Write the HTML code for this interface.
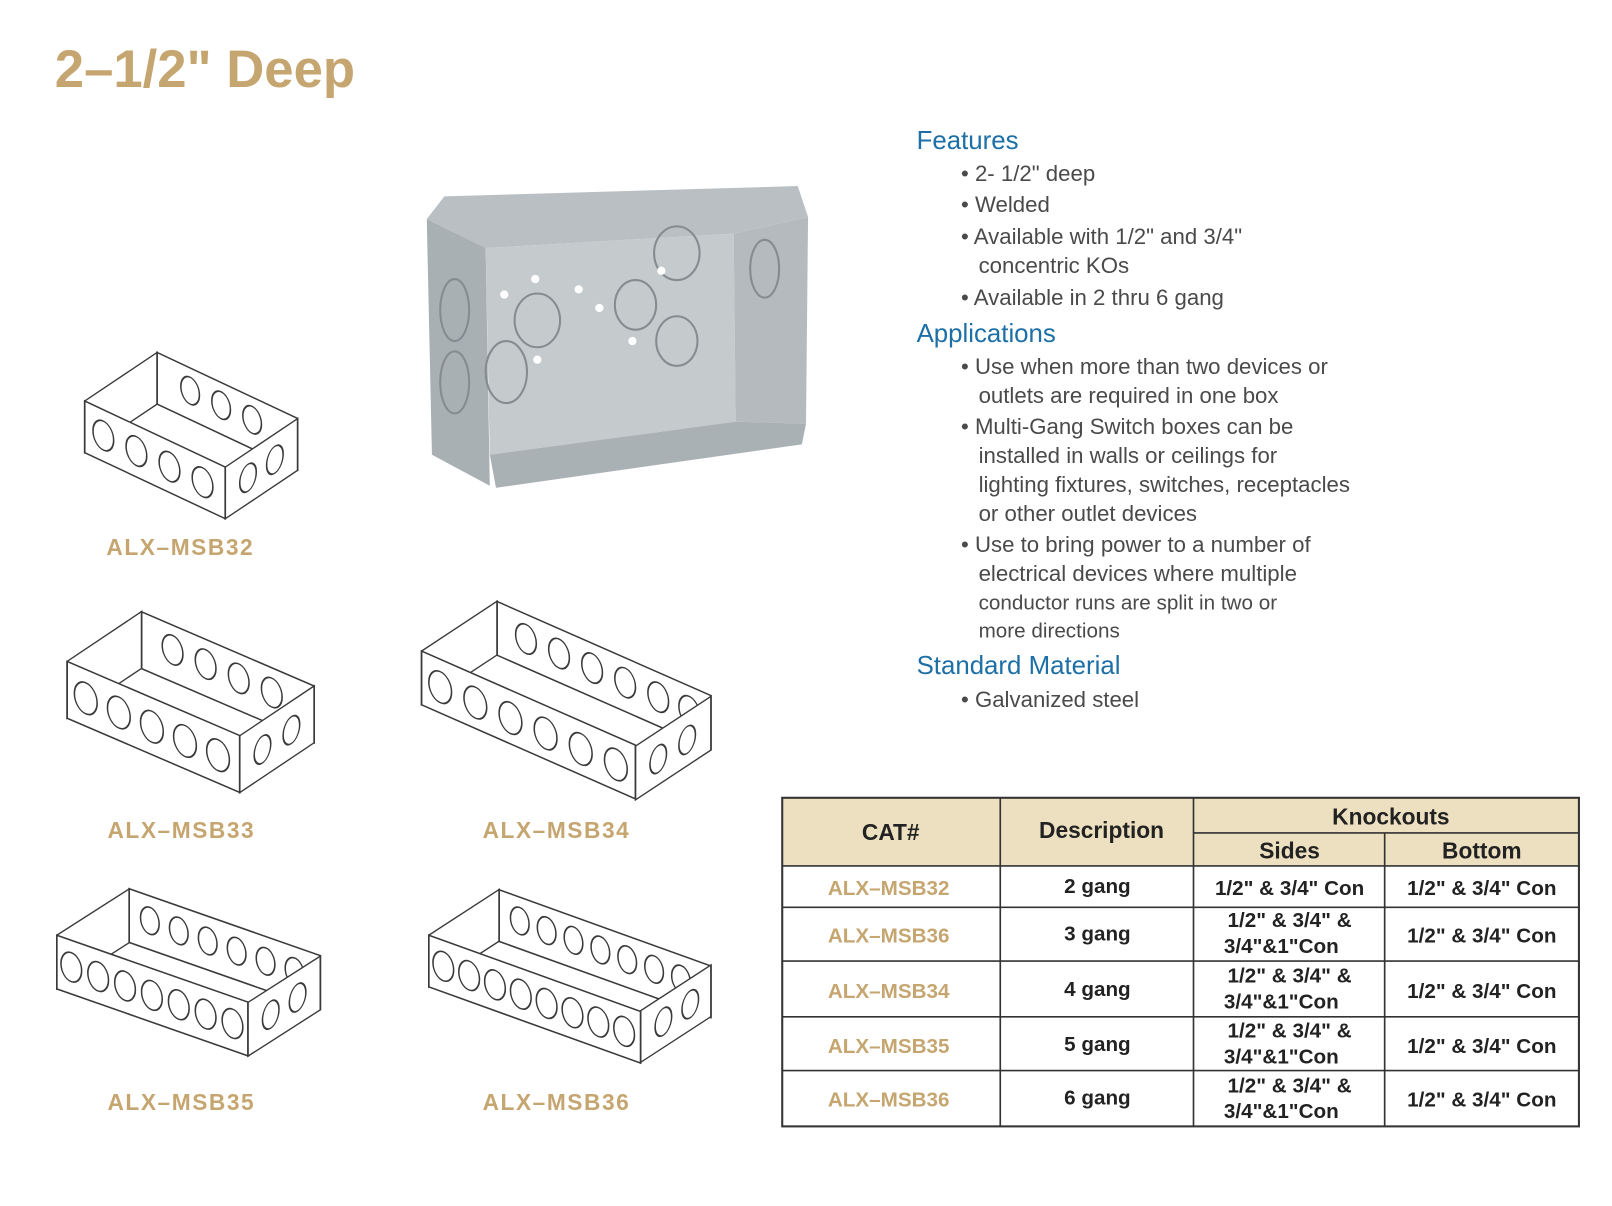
<!DOCTYPE html>
<html><head><meta charset="utf-8"><style>
html,body{margin:0;padding:0;background:#fff;width:1612px;height:1206px;overflow:hidden}
svg{display:block}
.lb{font-family:"Liberation Sans",sans-serif;font-weight:bold;font-size:22px;fill:#c6a670;letter-spacing:1.5px}
.h{font-family:"Liberation Sans",sans-serif;font-size:25px;fill:#1d6fa5}
.t{font-family:"Liberation Sans",sans-serif;font-size:21.5px;fill:#4a4a4a}
.th{font-family:"Liberation Sans Narrow","Liberation Sans",sans-serif;font-weight:bold;font-size:22px;fill:#222}
.td{font-family:"Liberation Sans Narrow","Liberation Sans",sans-serif;font-weight:bold;font-size:20px;fill:#222}
.tc{font-family:"Liberation Sans Narrow","Liberation Sans",sans-serif;font-weight:bold;font-size:20px;fill:#c6a670}
.ln{fill:#fff;stroke:#3a3a3a;stroke-width:1.6}
.ho{fill:#fff;stroke:#3a3a3a;stroke-width:1.5}
</style></head><body>
<svg width="1612" height="1206" viewBox="0 0 1560 1167" xmlns="http://www.w3.org/2000/svg">
<text x="53" y="84" font-family="Liberation Sans,sans-serif" font-weight="bold" font-size="51" fill="#c6a670">2–1/2" Deep</text>

<!-- photo -->
<g>
<polygon points="413,212 430,190 772,180 782,210 710,226 470,240" fill="#b9bfc2"/>
<polygon points="413,212 470,240 474,470 418,440" fill="#a9b0b4"/>
<polygon points="470,240 710,226 712,408 474,440" fill="#c5cacd"/>
<polygon points="710,226 782,210 780,410 712,408" fill="#b4babd"/>
<polygon points="474,440 712,408 780,410 776,430 480,472" fill="#aab1b4"/>
<g fill="none" stroke="#858c90" stroke-width="2">
<ellipse cx="520" cy="310" rx="22" ry="26"/><ellipse cx="615" cy="295" rx="20" ry="24"/>
<ellipse cx="655" cy="245" rx="22" ry="26"/><ellipse cx="655" cy="330" rx="20" ry="24"/>
<ellipse cx="440" cy="300" rx="14" ry="30"/><ellipse cx="440" cy="370" rx="14" ry="30"/>
<ellipse cx="490" cy="360" rx="20" ry="30"/><ellipse cx="740" cy="260" rx="14" ry="28"/>
</g>
<g fill="#fff"><circle cx="518" cy="270" r="4"/><circle cx="560" cy="280" r="4"/><circle cx="580" cy="298" r="4"/><circle cx="640" cy="262" r="4"/><circle cx="612" cy="330" r="4"/><circle cx="520" cy="348" r="4"/><circle cx="488" cy="285" r="4"/></g>
</g>

<!-- MSB32 -->
<g>
<g transform="matrix(1,0.47,0,1,152,341)"><rect class="ln" width="136" height="50"/>
<ellipse class="ho" cx="32" cy="22" rx="9" ry="13"/><ellipse class="ho" cx="62" cy="22" rx="9" ry="13"/><ellipse class="ho" cx="92" cy="22" rx="9" ry="13"/></g>
<g transform="matrix(1,-0.67,0,1,82,388)"><rect class="ln" width="70" height="50"/></g>
<g transform="matrix(1,0.47,0,1,82,388)"><rect class="ln" width="136" height="50"/>
<ellipse class="ho" cx="18" cy="25" rx="10" ry="14"/><ellipse class="ho" cx="50" cy="25" rx="10" ry="14"/><ellipse class="ho" cx="82" cy="25" rx="10" ry="14"/><ellipse class="ho" cx="114" cy="25" rx="10" ry="14"/></g>
<g transform="matrix(1,-0.67,0,1,218,452)"><rect class="ln" width="70" height="50"/><ellipse class="ho" cx="22" cy="25" rx="8" ry="13"/><ellipse class="ho" cx="48" cy="25" rx="8" ry="13"/></g>
</g>
<text class="lb" x="103" y="537">ALX–MSB32</text>

<!-- MSB33 -->
<g>
<g transform="matrix(1,0.43,0,1,137,592)"><rect class="ln" width="167" height="55"/>
<ellipse class="ho" cx="30" cy="24" rx="10" ry="14"/><ellipse class="ho" cx="62" cy="24" rx="10" ry="14"/><ellipse class="ho" cx="94" cy="24" rx="10" ry="14"/><ellipse class="ho" cx="126" cy="24" rx="10" ry="14"/></g>
<g transform="matrix(1,-0.67,0,1,65,640)"><rect class="ln" width="72" height="55"/></g>
<g transform="matrix(1,0.43,0,1,65,640)"><rect class="ln" width="167" height="55"/>
<ellipse class="ho" cx="18" cy="28" rx="11" ry="15"/><ellipse class="ho" cx="50" cy="28" rx="11" ry="15"/><ellipse class="ho" cx="82" cy="28" rx="11" ry="15"/><ellipse class="ho" cx="114" cy="28" rx="11" ry="15"/><ellipse class="ho" cx="146" cy="28" rx="11" ry="15"/></g>
<g transform="matrix(1,-0.67,0,1,232,712)"><rect class="ln" width="72" height="55"/><ellipse class="ho" cx="22" cy="28" rx="8" ry="13"/><ellipse class="ho" cx="50" cy="28" rx="8" ry="13"/></g>
</g>
<text class="lb" x="104" y="811">ALX–MSB33</text>

<!-- MSB34 -->
<g>
<g transform="matrix(1,0.44,0,1,481,582)"><rect class="ln" width="207" height="52"/>
<ellipse class="ho" cx="28" cy="24" rx="10" ry="14"/><ellipse class="ho" cx="60" cy="24" rx="10" ry="14"/><ellipse class="ho" cx="92" cy="24" rx="10" ry="14"/><ellipse class="ho" cx="124" cy="24" rx="10" ry="14"/><ellipse class="ho" cx="156" cy="24" rx="10" ry="14"/><ellipse class="ho" cx="186" cy="24" rx="10" ry="14"/></g>
<g transform="matrix(1,-0.66,0,1,408,630)"><rect class="ln" width="73" height="52"/></g>
<g transform="matrix(1,0.44,0,1,408,630)"><rect class="ln" width="207" height="52"/>
<ellipse class="ho" cx="18" cy="27" rx="11" ry="15"/><ellipse class="ho" cx="52" cy="27" rx="11" ry="15"/><ellipse class="ho" cx="86" cy="27" rx="11" ry="15"/><ellipse class="ho" cx="120" cy="27" rx="11" ry="15"/><ellipse class="ho" cx="154" cy="27" rx="11" ry="15"/><ellipse class="ho" cx="188" cy="27" rx="11" ry="15"/></g>
<g transform="matrix(1,-0.66,0,1,615,722)"><rect class="ln" width="73" height="52"/><ellipse class="ho" cx="22" cy="27" rx="8" ry="13"/><ellipse class="ho" cx="50" cy="27" rx="8" ry="13"/></g>
</g>
<text class="lb" x="467" y="811">ALX–MSB34</text>

<!-- MSB35 -->
<g>
<g transform="matrix(1,0.35,0,1,125,860)"><rect class="ln" width="185" height="52"/>
<ellipse class="ho" cx="20" cy="24" rx="9" ry="13"/><ellipse class="ho" cx="48" cy="24" rx="9" ry="13"/><ellipse class="ho" cx="76" cy="24" rx="9" ry="13"/><ellipse class="ho" cx="104" cy="24" rx="9" ry="13"/><ellipse class="ho" cx="132" cy="24" rx="9" ry="13"/><ellipse class="ho" cx="160" cy="24" rx="9" ry="13"/></g>
<g transform="matrix(1,-0.64,0,1,55,905)"><rect class="ln" width="70" height="52"/></g>
<g transform="matrix(1,0.35,0,1,55,905)"><rect class="ln" width="185" height="52"/>
<ellipse class="ho" cx="14" cy="26" rx="10" ry="14"/><ellipse class="ho" cx="40" cy="26" rx="10" ry="14"/><ellipse class="ho" cx="66" cy="26" rx="10" ry="14"/><ellipse class="ho" cx="92" cy="26" rx="10" ry="14"/><ellipse class="ho" cx="118" cy="26" rx="10" ry="14"/><ellipse class="ho" cx="144" cy="26" rx="10" ry="14"/><ellipse class="ho" cx="170" cy="26" rx="10" ry="14"/></g>
<g transform="matrix(1,-0.64,0,1,240,970)"><rect class="ln" width="70" height="52"/><ellipse class="ho" cx="22" cy="26" rx="8" ry="13"/><ellipse class="ho" cx="48" cy="26" rx="8" ry="13"/></g>
</g>
<text class="lb" x="104" y="1074">ALX–MSB35</text>

<!-- MSB36 -->
<g>
<g transform="matrix(1,0.36,0,1,483,861)"><rect class="ln" width="205" height="50"/>
<ellipse class="ho" cx="20" cy="23" rx="9" ry="13"/><ellipse class="ho" cx="46" cy="23" rx="9" ry="13"/><ellipse class="ho" cx="72" cy="23" rx="9" ry="13"/><ellipse class="ho" cx="98" cy="23" rx="9" ry="13"/><ellipse class="ho" cx="124" cy="23" rx="9" ry="13"/><ellipse class="ho" cx="150" cy="23" rx="9" ry="13"/><ellipse class="ho" cx="176" cy="23" rx="9" ry="13"/></g>
<g transform="matrix(1,-0.65,0,1,415,905)"><rect class="ln" width="68" height="50"/></g>
<g transform="matrix(1,0.36,0,1,415,905)"><rect class="ln" width="205" height="50"/>
<ellipse class="ho" cx="14" cy="25" rx="10" ry="14"/><ellipse class="ho" cx="39" cy="25" rx="10" ry="14"/><ellipse class="ho" cx="64" cy="25" rx="10" ry="14"/><ellipse class="ho" cx="89" cy="25" rx="10" ry="14"/><ellipse class="ho" cx="114" cy="25" rx="10" ry="14"/><ellipse class="ho" cx="139" cy="25" rx="10" ry="14"/><ellipse class="ho" cx="164" cy="25" rx="10" ry="14"/><ellipse class="ho" cx="189" cy="25" rx="10" ry="14"/></g>
<g transform="matrix(1,-0.65,0,1,620,978)"><rect class="ln" width="68" height="50"/><ellipse class="ho" cx="22" cy="25" rx="8" ry="13"/><ellipse class="ho" cx="48" cy="25" rx="8" ry="13"/></g>
</g>
<text class="lb" x="467" y="1074">ALX–MSB36</text>

<!-- text column -->
<text class="h" x="887" y="144">Features</text>
<g class="t">
<text x="930" y="175">• 2- 1/2" deep</text>
<text x="930" y="205">• Welded</text>
<text x="930" y="236">• Available with 1/2" and 3/4"</text>
<text x="947" y="264">concentric KOs</text>
<text x="930" y="295">• Available in 2 thru 6 gang</text>
</g>
<text class="h" x="887" y="331">Applications</text>
<g class="t">
<text x="930" y="362">• Use when more than two devices or</text>
<text x="947" y="390">outlets are required in one box</text>
<text x="930" y="420">• Multi-Gang Switch boxes can be</text>
<text x="947" y="448">installed in walls or ceilings for</text>
<text x="947" y="476">lighting fixtures, switches, receptacles</text>
<text x="947" y="504">or other outlet devices</text>
<text x="930" y="534">• Use to bring power to a number of</text>
<text x="947" y="562">electrical devices where multiple</text>
<text x="947" y="590" font-size="20">conductor runs are split in two or</text>
<text x="947" y="617" font-size="20">more directions</text>
</g>
<text class="h" x="887" y="652">Standard Material</text>
<text class="t" x="930" y="684">• Galvanized steel</text>

<!-- table -->
<rect x="757" y="772" width="771" height="66" fill="#ede0c0"/>
<g stroke="#333" stroke-width="1.6" fill="none">
<rect x="757" y="772" width="771" height="318" stroke-width="2"/>
<line x1="757" y1="838" x2="1528" y2="838"/>
<line x1="1155" y1="806" x2="1528" y2="806"/>
<line x1="757" y1="878" x2="1528" y2="878"/>
<line x1="757" y1="930" x2="1528" y2="930"/>
<line x1="757" y1="984" x2="1528" y2="984"/>
<line x1="757" y1="1036" x2="1528" y2="1036"/>
<line x1="968" y1="772" x2="968" y2="1090"/>
<line x1="1155" y1="772" x2="1155" y2="1090"/>
<line x1="1340" y1="806" x2="1340" y2="1090"/>
</g>
<g text-anchor="middle">
<text class="th" x="862" y="813">CAT#</text>
<text class="th" x="1066" y="811">Description</text>
<text class="th" x="1346" y="798">Knockouts</text>
<text class="th" x="1248" y="831">Sides</text>
<text class="th" x="1434" y="831">Bottom</text>
<text class="tc" x="860" y="866">ALX–MSB32</text><text class="td" x="1062" y="864">2 gang</text>
<text class="td" x="1248" y="866">1/2" &amp; 3/4" Con</text><text class="td" x="1434" y="866">1/2" &amp; 3/4" Con</text>
<text class="tc" x="860" y="912">ALX–MSB36</text><text class="td" x="1062" y="910">3 gang</text>
<text class="td" x="1248" y="897">1/2" &amp; 3/4" &amp;</text><text class="td" x="1240" y="922">3/4"&amp;1"Con</text><text class="td" x="1434" y="912">1/2" &amp; 3/4" Con</text>
<text class="tc" x="860" y="966">ALX–MSB34</text><text class="td" x="1062" y="964">4 gang</text>
<text class="td" x="1248" y="951">1/2" &amp; 3/4" &amp;</text><text class="td" x="1240" y="976">3/4"&amp;1"Con</text><text class="td" x="1434" y="966">1/2" &amp; 3/4" Con</text>
<text class="tc" x="860" y="1019">ALX–MSB35</text><text class="td" x="1062" y="1017">5 gang</text>
<text class="td" x="1248" y="1004">1/2" &amp; 3/4" &amp;</text><text class="td" x="1240" y="1029">3/4"&amp;1"Con</text><text class="td" x="1434" y="1019">1/2" &amp; 3/4" Con</text>
<text class="tc" x="860" y="1071">ALX–MSB36</text><text class="td" x="1062" y="1069">6 gang</text>
<text class="td" x="1248" y="1057">1/2" &amp; 3/4" &amp;</text><text class="td" x="1240" y="1082">3/4"&amp;1"Con</text><text class="td" x="1434" y="1071">1/2" &amp; 3/4" Con</text>
</g>
</svg>
</body></html>
